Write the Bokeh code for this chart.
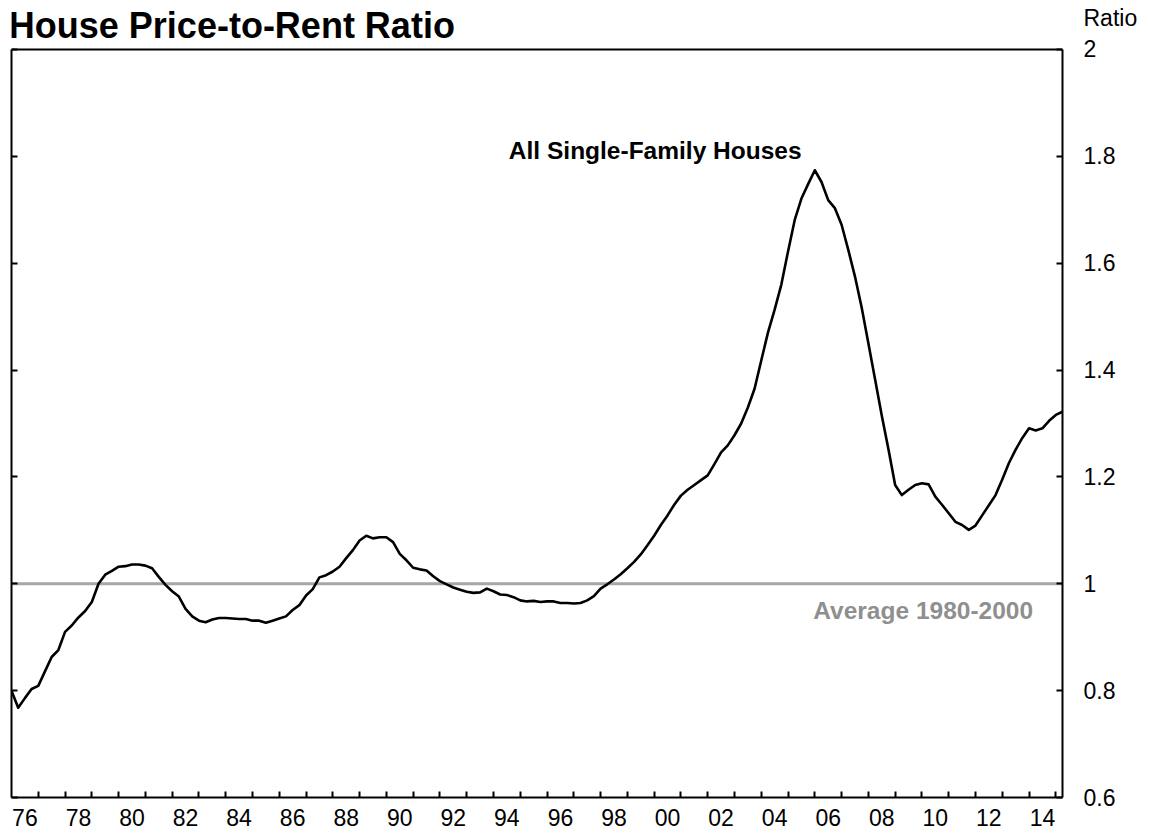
from bokeh.plotting import figure
from bokeh.models import Range1d, LinearAxis, FixedTicker, Span, Label
from bokeh.embed import file_html
from bokeh.resources import INLINE

# ---- data (quarterly, starting 1976 Q1) ----
start_year = 1976.0
ratio = [
    0.800, 0.768, 0.786, 0.803,   # 1976
    0.809, 0.836, 0.863, 0.876,   # 1977
    0.910, 0.922, 0.937, 0.949,   # 1978
    0.966, 1.000, 1.017, 1.024,   # 1979
    1.032, 1.033, 1.036, 1.036,   # 1980
    1.034, 1.029, 1.013, 0.998,   # 1981
    0.986, 0.976, 0.953, 0.939,   # 1982
    0.931, 0.928, 0.933, 0.936,   # 1983
    0.936, 0.935, 0.934, 0.934,   # 1984
    0.931, 0.931, 0.927, 0.931,   # 1985
    0.935, 0.939, 0.951, 0.960,   # 1986
    0.978, 0.990, 1.012, 1.016,   # 1987
    1.023, 1.032, 1.048, 1.063,   # 1988
    1.081, 1.090, 1.085, 1.087,   # 1989
    1.087, 1.078, 1.056, 1.044,   # 1990
    1.030, 1.027, 1.025, 1.014,   # 1991
    1.005, 0.999, 0.993, 0.989,   # 1992
    0.985, 0.983, 0.984, 0.991,   # 1993
    0.986, 0.980, 0.979, 0.975,   # 1994
    0.969, 0.967, 0.968, 0.966,   # 1995
    0.967, 0.967, 0.964, 0.964,   # 1996
    0.963, 0.964, 0.969, 0.977,   # 1997
    0.991, 0.999, 1.008, 1.018,   # 1998
    1.029, 1.041, 1.055, 1.072,   # 1999
    1.090, 1.110, 1.128, 1.148,   # 2000
    1.165, 1.176, 1.185, 1.194,   # 2001
    1.203, 1.224, 1.246, 1.259,   # 2002
    1.278, 1.300, 1.330, 1.365,   # 2003
    1.418, 1.470, 1.513, 1.560,   # 2004
    1.622, 1.681, 1.721, 1.748,   # 2005
    1.774, 1.752, 1.718, 1.703,   # 2006
    1.672, 1.625, 1.575, 1.517,   # 2007
    1.450, 1.383, 1.315, 1.252,   # 2008
    1.185, 1.166, 1.176, 1.185,   # 2009
    1.188, 1.186, 1.163, 1.148,   # 2010
    1.132, 1.116, 1.110, 1.101,   # 2011
    1.109, 1.128, 1.147, 1.166,   # 2012
    1.195, 1.226, 1.251, 1.273,   # 2013
    1.291, 1.287, 1.291, 1.305,   # 2014
    1.316, 1.322,                 # 2015
]
quarters = [start_year + i * 0.25 for i in range(len(ratio))]

average_level = 1.0
average_label = "Average 1980-2000"
series_label = "All Single-Family Houses"
title_text = "House Price-to-Rent Ratio"
unit_label = "Ratio"

label_years = [1976, 1978, 1980, 1982, 1984, 1986, 1988, 1990, 1992, 1994,
               1996, 1998, 2000, 2002, 2004, 2006, 2008, 2010, 2012, 2014]
x_tick_labels = ["76", "78", "80", "82", "84", "86", "88", "90", "92", "94",
                 "96", "98", "00", "02", "04", "06", "08", "10", "12", "14"]
year_boundaries = list(range(1977, 2016))

y_ticks = [0.6, 0.8, 1.0, 1.2, 1.4, 1.6, 1.8, 2.0]
y_tick_labels = ["0.6", "0.8", "1", "1.2", "1.4", "1.6", "1.8", "2"]
unit_label_pos = 2.059

X_START, X_END = 1976.0, 2015.25
Y_BOTTOM, Y_TOP = 0.6, 2.0
Y_VIEW_TOP = 2.0917   # room above the chart box for the title / unit label

FONT = "Liberation Sans"
FS = "23px"

p = figure(width=1149, height=836,
           x_range=Range1d(X_START, X_END), y_range=Range1d(Y_BOTTOM, Y_VIEW_TOP),
           output_backend="svg", toolbar_location=None,
           x_axis_location=None, y_axis_location=None,
           min_border_left=11, min_border_right=87,
           min_border_top=0, min_border_bottom=39)
p.grid.visible = False
p.outline_line_color = None
p.background_fill_color = "white"
p.border_fill_color = "white"

# bottom axis: year-boundary tick marks, labels centred on even years
label_pos = [y + 0.5 for y in label_years]
xaxis = LinearAxis(
    ticker=FixedTicker(ticks=label_pos, minor_ticks=year_boundaries),
    major_label_overrides={pos: lab for pos, lab in zip(label_pos, x_tick_labels)},
    major_tick_in=0, major_tick_out=0,
    minor_tick_in=6, minor_tick_out=0,
    minor_tick_line_color="black", minor_tick_line_width=2,
    major_label_standoff=11,
    axis_line_color="black", axis_line_width=2,
    major_label_text_font=FONT, major_label_text_font_size=FS,
    major_label_text_color="black",
)
p.add_layout(xaxis, "below")

# right axis line + ticks (limited to the chart box)
raxis_ticks = LinearAxis(
    ticker=FixedTicker(ticks=y_ticks, minor_ticks=[]),
    bounds=(Y_BOTTOM, Y_TOP),
    major_label_overrides={t: "" for t in y_ticks},
    major_tick_in=6, major_tick_out=0,
    major_tick_line_color="black", major_tick_line_width=2,
    minor_tick_in=0, minor_tick_out=0,
    major_label_standoff=0, major_label_text_font_size="1px",
    axis_line_color="black", axis_line_width=2,
)
p.add_layout(raxis_ticks, "right")

# right axis labels (incl. unit label above the top tick)
lab_ticks = y_ticks + [unit_label_pos]
lab_texts = y_tick_labels + [unit_label]
raxis_labels = LinearAxis(
    ticker=FixedTicker(ticks=lab_ticks, minor_ticks=[]),
    major_label_overrides={t: lab for t, lab in zip(lab_ticks, lab_texts)},
    major_tick_in=0, major_tick_out=0, major_tick_line_color=None,
    minor_tick_in=0, minor_tick_out=0, minor_tick_line_color=None,
    major_label_standoff=21,
    axis_line_color=None,
    major_label_text_font=FONT, major_label_text_font_size=FS,
    major_label_text_color="black",
)
p.add_layout(raxis_labels, "right")

laxis = LinearAxis(
    ticker=FixedTicker(ticks=y_ticks, minor_ticks=[]),
    bounds=(Y_BOTTOM, Y_TOP),
    major_label_overrides={t: "" for t in y_ticks},
    major_tick_in=6, major_tick_out=0,
    major_tick_line_color="black", major_tick_line_width=2,
    minor_tick_in=0, minor_tick_out=0,
    major_label_standoff=0, major_label_text_font_size="1px",
    axis_line_color="black", axis_line_width=2,
)
p.add_layout(laxis, "left")

# top edge of the chart box
p.add_layout(Span(location=Y_TOP, dimension="width", line_color="black", line_width=2))

avg = Span(location=average_level, dimension="width", line_color="#a6a6a6",
           line_width=3, level="underlay")
p.add_layout(avg)

p.line(quarters, ratio, line_color="black", line_width=2.6, line_join="round")

p.add_layout(Label(x=2000.04, y=1.8113, text=series_label, text_align="center",
                   text_baseline="alphabetic", text_font=FONT,
                   text_font_size="24.5px", text_font_style="bold",
                   text_color="black"))
p.add_layout(Label(x=2014.15, y=0.9505, text=average_label, text_align="right",
                   text_baseline="alphabetic", text_font=FONT,
                   text_font_size="24.5px", text_font_style="bold",
                   text_color="#8f8f8f"))
p.add_layout(Label(x=1975.9, y=2.045, text=title_text, text_align="left",
                   text_baseline="alphabetic", text_font=FONT,
                   text_font_size="36px", text_font_style="bold",
                   text_color="black"))

open("out.html", "w").write(file_html(p, INLINE))
